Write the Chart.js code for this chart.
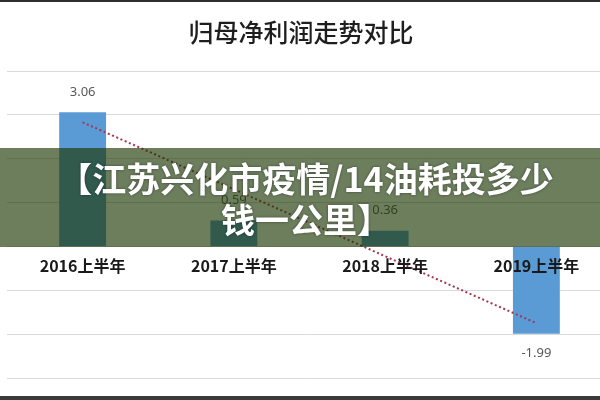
<!DOCTYPE html>
<html>
<head>
<meta charset="utf-8">
<script src="https://cdn.jsdelivr.net/npm/chart.js@4/dist/chart.umd.min.js"></script>
<style>
  html, body { margin: 0; padding: 0; background: #fff; overflow: hidden; }
  #wrap { position: relative; width: 600px; height: 400px; overflow: hidden; }
  #box { position: absolute; left: 0; top: 0; width: 612px; height: 400px; }
  #titulo {
    position: absolute; left: 0; top: 13px; width: 602px; text-align: center;
    font: 500 25px "Noto Sans CJK SC", sans-serif; color: #1e1e1e; line-height: 36px;
  }
  #banner {
    position: absolute; left: 0; top: 148px; width: 600px; height: 99px;
    background: rgba(25, 53, 0, 0.64);
  }
  #banner div {
    position: absolute; left: 12px; right: 0; top: 9px; text-align: center;
    font: bold 34px "Noto Sans CJK SC", sans-serif; line-height: 41px; color: #fff;
    text-shadow: 0 0 3px rgba(0,0,0,0.45);
  }
  .borde { position: absolute; left: 0; width: 600px; background: #2e2e2e; }
</style>
</head>
<body>
<div id="wrap">
  <div id="box"><canvas id="chartUtilidad"></canvas></div>
  <div id="titulo">归母净利润走势对比</div>
  <div id="banner"><div>【江苏兴化市疫情/14油耗投多少<br>钱一公里】</div></div>
  <div class="borde" style="top:0;height:2px"></div>
  <div class="borde" style="top:396px;height:4px;background:#3a3a3a"></div>
</div>
<script>
// datos
const periodos = ['2016上半年', '2017上半年', '2018上半年', '2019上半年'];
const utilidad = [3.06, 0.59, 0.36, -1.99];
// linea de tendencia (extremos)
const tendencia = [2.83, null, null, -1.75];

// etiquetas de valor arriba / abajo de cada barra (dataset de barras = indice 1)
const etiquetasValor = {
    id: 'etiquetasValor',
    afterDatasetsDraw(chart) {
        const ctx = chart.ctx;
        const meta = chart.getDatasetMeta(1);
        ctx.save();
        ctx.font = '13px "Noto Sans", sans-serif';
        ctx.fillStyle = '#595959';
        ctx.textAlign = 'center';
        ctx.textBaseline = 'middle';
        meta.data.forEach((barra, i) => {
            const v = utilidad[i];
            const y = v >= 0 ? barra.y - 20 : barra.y + 20;
            ctx.fillText(v.toFixed(2), barra.x, y);
        });
        ctx.restore();
    }
};

const canvas = document.getElementById('chartUtilidad');
const context = canvas.getContext('2d');

const chartUtilidad = new Chart(context, {
    type: 'bar',
    data: {
        labels: periodos,
        datasets: [
            {
                type: 'line',
                label: 'Tendencia',
                data: tendencia,
                spanGaps: true,
                borderColor: '#a8334d',
                borderWidth: 2,
                borderDash: [2, 2.6],
                pointRadius: 0,
                fill: false,
                order: 0
            },
            {
                label: '归母净利润',
                data: utilidad,
                backgroundColor: '#5b9bd5',
                barPercentage: 0.31,
                categoryPercentage: 1.0,
                order: 1
            }
        ]
    },
    plugins: [etiquetasValor],
    options: {
        responsive: true,
        maintainAspectRatio: false,
        animation: false,
        layout: {
            padding: { left: 7, top: 71, right: 0, bottom: 22 }
        },
        scales: {
            x: {
                position: { y: 0 },
                grid: { display: false, drawTicks: false },
                border: { display: false },
                ticks: {
                    z: 1,
                    padding: 10,
                    color: '#1a1a1a',
                    font: { family: '"Noto Sans CJK SC", sans-serif', size: 16, weight: 'bold' }
                }
            },
            y: {
                min: -3,
                max: 4,
                ticks: { display: false, stepSize: 1 },
                grid: { color: '#d9d9d9', lineWidth: 1, drawTicks: false },
                border: { display: false }
            }
        },
        plugins: {
            legend: { display: false },
            tooltip: { enabled: false },
            title: { display: false }
        }
    }
});
</script>
</body>
</html>
